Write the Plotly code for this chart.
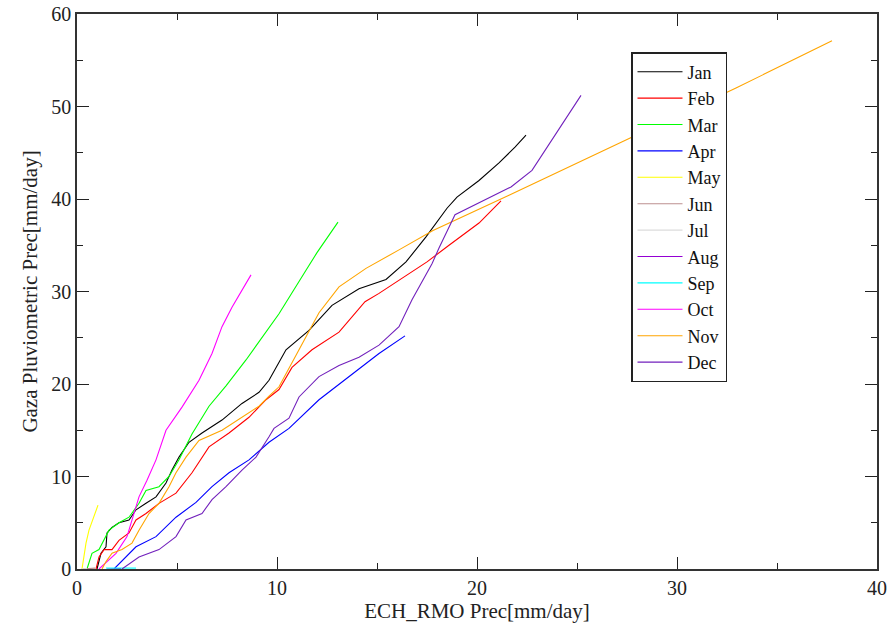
import plotly.graph_objects as go

months = ["Jan", "Feb", "Mar", "Apr", "May", "Jun", "Jul", "Aug", "Sep", "Oct", "Nov", "Dec"]
colors = ["rgb(0,0,0)", "rgb(255,0,0)", "rgb(0,255,0)", "rgb(0,0,255)", "rgb(255,255,0)",
          "rgb(188,143,143)", "rgb(220,220,220)", "rgb(148,0,211)", "rgb(0,255,255)",
          "rgb(255,0,255)", "rgb(255,165,0)", "rgb(114,33,188)"]

jan_x = [1.0, 1.2, 1.45, 1.5, 1.75, 2.1, 2.6, 2.95, 3.45, 3.95, 4.45, 4.75, 5.1, 5.6, 6.25, 7.25, 8.25, 9.1, 9.6, 10.45, 11.6, 12.75, 14.1, 15.45, 16.45, 17.45, 18.5, 19.0, 20.1, 21.1, 21.9, 22.45]
jan_y = [0, 1.7, 2.4, 3.9, 4.5, 5.0, 5.3, 6.4, 7.1, 7.8, 9.3, 10.7, 12.1, 13.7, 14.7, 16.1, 17.9, 19.1, 20.4, 23.7, 25.8, 28.5, 30.3, 31.3, 33.2, 35.9, 39.0, 40.2, 42.0, 43.9, 45.6, 46.9]

feb_x = [0.95, 1.1, 1.35, 1.75, 2.1, 2.6, 2.95, 3.45, 4.1, 4.95, 5.75, 6.6, 7.6, 8.6, 9.45, 10.1, 10.75, 11.75, 13.1, 14.4, 15.1, 16.4, 17.5, 18.6, 20.1, 21.2]
feb_y = [0, 1.3, 2.1, 2.1, 3.1, 3.9, 5.3, 6.0, 7.1, 8.2, 10.4, 13.2, 14.7, 16.4, 18.3, 19.4, 21.8, 23.7, 25.6, 28.9, 29.8, 31.6, 33.2, 35.0, 37.4, 39.8]

mar_x = [0.5, 0.75, 1.1, 1.35, 1.6, 2.1, 2.6, 3.1, 3.45, 4.1, 4.6, 5.1, 5.75, 6.6, 7.45, 8.45, 10.1, 11.45, 12.0, 13.05]
mar_y = [0, 1.7, 2.1, 3.1, 4.2, 5.0, 5.6, 7.1, 8.5, 8.9, 10.0, 11.8, 14.6, 17.6, 19.8, 22.6, 27.6, 32.3, 34.2, 37.5]

apr_x = [1.85, 2.95, 3.95, 4.95, 5.95, 6.75, 7.6, 8.6, 9.6, 10.6, 12.1, 13.6, 15.1, 16.4]
apr_y = [0, 2.4, 3.5, 5.6, 7.2, 8.9, 10.4, 11.8, 13.7, 15.2, 18.3, 20.8, 23.3, 25.2]

may_x = [0.25, 0.45, 0.6, 0.85, 1.05]
may_y = [0, 2.8, 4.2, 5.6, 6.9]

jun_x = [0.3, 0.6, 0.9]
jun_y = [0, 0.05, 0.1]

jul_x = [0.2, 0.5]
jul_y = [0, 0.05]

aug_x = [1.5, 2.2]
aug_y = [0, 0.05]

sep_x = [1.45, 2.95]
sep_y = [0.1, 0.1]

oct_x = [1.1, 1.95, 2.5, 2.85, 3.1, 3.5, 3.95, 4.45, 5.25, 6.1, 6.75, 7.25, 7.75, 8.7]
oct_y = [0, 1.7, 3.5, 6.0, 7.8, 9.6, 11.8, 15.0, 17.5, 20.4, 23.3, 26.2, 28.3, 31.8]

nov_x = [1.25, 1.45, 1.75, 2.25, 2.75, 3.1, 3.6, 4.1, 4.6, 4.95, 5.45, 6.1, 7.25, 8.25, 9.1, 9.6, 10.1, 11.1, 12.1, 13.1, 14.45, 16.1, 17.8, 21.6, 26.1, 32.95, 37.75]
nov_y = [0, 0.8, 1.7, 2.1, 2.8, 4.2, 6.0, 7.1, 8.9, 10.4, 12.1, 13.9, 15.0, 16.4, 17.6, 18.7, 19.7, 23.7, 27.7, 30.5, 32.5, 34.5, 36.6, 40.4, 45.0, 52.0, 57.1]

dec_x = [2.25, 3.1, 4.1, 4.95, 5.45, 6.25, 6.75, 7.45, 8.25, 8.95, 9.6, 9.85, 10.6, 11.1, 12.1, 13.1, 14.1, 15.1, 16.1, 16.75, 17.75, 18.1, 18.9, 21.7, 22.75, 25.2]
dec_y = [0, 1.3, 2.1, 3.5, 5.3, 6.0, 7.5, 8.9, 10.7, 12.1, 14.3, 15.2, 16.3, 18.6, 20.8, 22.0, 22.9, 24.2, 26.2, 29.1, 33.0, 34.7, 38.3, 41.3, 43.1, 51.2]

series_x = [jan_x, feb_x, mar_x, apr_x, may_x, jun_x, jul_x, aug_x, sep_x, oct_x, nov_x, dec_x]
series_y = [jan_y, feb_y, mar_y, apr_y, may_y, jun_y, jul_y, aug_y, sep_y, oct_y, nov_y, dec_y]

x_ticks = [0, 10, 20, 30, 40]
y_ticks = [0, 10, 20, 30, 40, 50, 60]

FONT = "Times New Roman, Liberation Serif, DejaVu Serif, serif"

fig = go.Figure()
for name, col, xs, ys in zip(months, colors, series_x, series_y):
    fig.add_trace(go.Scatter(x=xs, y=ys, mode="lines", name=name,
                             line=dict(color=col, width=1.1)))

axis_common = dict(
    showline=True, linecolor="#333333", linewidth=1.5, mirror="ticks",
    ticks="inside", ticklen=12, tickwidth=1.3, tickcolor="#222222",
    showgrid=False, zeroline=False, layer="below traces", automargin=False,
    tickfont=dict(family=FONT, size=20, color="#222222"),
    minor=dict(ticks="inside", ticklen=6, tickwidth=1.3, tickcolor="#222222", dtick=5, showgrid=False),
)

fig.update_xaxes(range=[0, 40], tickvals=x_ticks,
                 title=dict(text="ECH_RMO Prec[mm/day]", font=dict(family=FONT, size=21, color="#222222"), standoff=3),
                 **axis_common)
fig.update_yaxes(range=[0, 60], tickvals=y_ticks,
                 title=dict(text="Gaza Pluviometric Prec[mm/day]", font=dict(family=FONT, size=21, color="#222222"), standoff=8),
                 **axis_common)

fig.update_layout(
    width=895, height=624,
    margin=dict(l=77, r=18, t=14, b=55),
    paper_bgcolor="white", plot_bgcolor="white",
    font=dict(family=FONT),
    showlegend=True,
    legend=dict(x=0.6925, y=0.9315, xanchor="left", yanchor="top",
                bordercolor="#222222", borderwidth=1.5, bgcolor="white",
                font=dict(family=FONT, size=18, color="#111111"),
                itemwidth=45, tracegroupgap=0),
)

fig.write_html("out.html")
